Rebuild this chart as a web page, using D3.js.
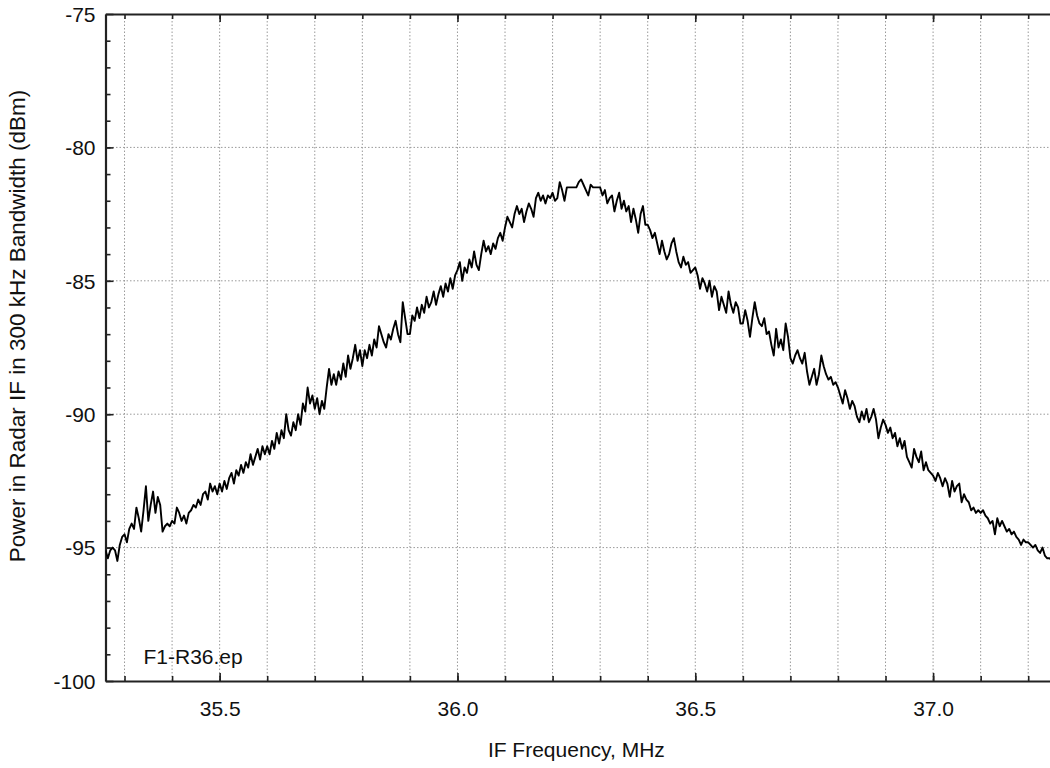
<!DOCTYPE html>
<html>
<head>
<meta charset="utf-8">
<script src="https://cdn.jsdelivr.net/npm/d3@7"></script>
<style>
  body { margin: 0; background: #fff; }
  svg { display: block; font-family: "Liberation Sans", Arial, sans-serif; }
  .grid line { stroke: #9a9a9a; stroke-width: 1; stroke-dasharray: 1.5,2; }
  .axis path, .axis line { stroke: #222; }
  .axis path { stroke-width: 2.2; }
  .axis line { stroke-width: 1.6; }
  .axis text { font-size: 21px; fill: #111; }
  .title { font-size: 21px; fill: #111; }
</style>
</head>
<body>
<div id="chart"></div>
<script>
// Sweep: start frequency and step (MHz), one reading per step
const freqStart = 35.26
const freqStep = 0.005

// Power readings (dBm), one row per 0.1 MHz
const powerDbm = [
  -95.1, -95.4, -95.1, -95.0, -95.1, -95.5, -94.9, -94.6,
  // 35.3
  -94.5, -94.8, -94.3, -94.1, -94.3, -93.5, -93.9, -94.4, -93.6, -92.7, -94.0, -93.4, -92.9, -93.7, -93.1, -93.4, -94.4, -94.2, -94.1, -94.2,
  // 35.4
  -94.0, -94.1, -93.5, -93.7, -94.0, -93.8, -94.1, -93.7, -93.6, -93.4, -93.5, -93.2, -93.4, -93.0, -92.9, -93.2, -92.6, -92.9, -92.7, -93.0,
  // 35.5
  -92.6, -92.9, -92.5, -92.8, -92.4, -92.2, -92.6, -92.1, -92.3, -91.9, -92.2, -91.8, -92.0, -91.5, -91.9, -91.6, -91.3, -91.7, -91.2, -91.5,
  // 35.6
  -91.2, -91.5, -91.0, -91.3, -90.7, -91.1, -90.6, -90.9, -90.0, -90.6, -90.8, -90.3, -90.6, -90.0, -90.4, -89.6, -89.9, -89.0, -89.6, -89.3,
  // 35.7
  -89.8, -89.4, -90.0, -89.5, -89.8, -89.0, -88.3, -88.9, -88.5, -88.9, -88.4, -88.7, -88.1, -88.6, -87.8, -88.3, -87.9, -87.4, -88.0, -87.6,
  // 35.8
  -88.2, -87.6, -87.9, -87.4, -87.8, -87.2, -87.5, -86.7, -87.0, -87.3, -87.5, -87.0, -87.2, -86.8, -86.5, -87.0, -87.3, -85.8, -86.4, -87.0,
  // 35.9
  -87.0, -86.3, -86.5, -86.0, -86.4, -85.9, -86.2, -85.6, -86.0, -85.8, -85.4, -85.9, -85.5, -85.2, -85.6, -85.1, -85.4, -84.9, -85.3, -84.8,
  // 36.0
  -84.6, -84.3, -85.0, -84.5, -84.7, -84.2, -84.5, -83.9, -84.4, -84.6, -84.0, -83.5, -83.9, -83.7, -84.0, -83.6, -83.8, -83.4, -83.2, -83.5,
  // 36.1
  -83.0, -82.6, -82.8, -83.0, -82.5, -82.2, -82.5, -82.3, -82.8, -82.4, -82.1, -82.3, -82.6, -81.9, -81.7, -82.0, -81.8, -82.1, -81.8, -81.9,
  // 36.2
  -81.7, -82.0, -81.9, -81.3, -81.6, -82.0, -81.5, -81.5, -81.5, -81.5, -81.5, -81.3, -81.2, -81.4, -81.6, -81.8, -81.4, -81.5, -81.5, -81.5,
  // 36.3
  -81.5, -81.8, -81.6, -82.1, -81.9, -81.8, -82.4, -82.0, -81.7, -82.3, -82.0, -82.4, -82.2, -82.8, -82.3, -82.7, -83.2, -82.5, -82.2, -82.9,
  // 36.4
  -82.9, -83.1, -83.4, -83.2, -83.6, -84.0, -83.5, -83.9, -84.2, -84.0, -83.6, -83.4, -83.9, -84.3, -84.5, -84.1, -84.4, -84.3, -84.7, -84.6,
  // 36.5
  -84.5, -84.8, -85.3, -84.9, -85.1, -85.4, -85.0, -85.6, -85.2, -85.4, -86.1, -85.6, -85.9, -86.2, -85.4, -85.9, -86.2, -85.8, -86.0, -86.6,
  // 36.6
  -86.6, -86.1, -86.5, -87.1, -86.4, -85.8, -86.3, -86.6, -86.7, -86.4, -87.0, -86.9, -87.4, -87.8, -86.8, -87.5, -87.2, -87.6, -86.6, -87.1,
  // 36.7
  -87.9, -88.1, -87.8, -87.6, -87.9, -88.1, -87.7, -88.4, -88.9, -88.6, -88.3, -88.9, -88.5, -87.8, -88.2, -88.5, -88.7, -88.6, -88.9, -88.8,
  // 36.8
  -89.0, -89.3, -89.6, -89.1, -89.4, -89.8, -89.5, -89.7, -90.1, -90.3, -89.9, -90.2, -89.8, -90.3, -90.1, -89.8, -90.2, -90.9, -90.5, -90.2,
  // 36.9
  -90.4, -90.7, -90.5, -90.9, -90.7, -91.2, -90.9, -91.3, -91.0, -91.6, -91.8, -92.0, -91.3, -91.6, -91.8, -91.4, -92.1, -91.8, -92.1, -92.2,
  // 37.0
  -92.3, -92.5, -92.2, -92.4, -92.7, -92.4, -92.6, -93.1, -92.5, -92.9, -92.7, -92.6, -93.3, -93.0, -93.2, -93.3, -93.6, -93.5, -93.7, -93.6,
  // 37.1
  -93.7, -93.6, -93.8, -93.9, -94.1, -94.0, -94.5, -93.9, -94.2, -94.0, -94.2, -94.4, -94.3, -94.5, -94.4, -94.6, -94.7, -94.9, -94.7, -94.8,
  // 37.2
  -94.8, -94.9, -95.0, -94.9, -95.1, -95.2, -95.0, -95.3, -95.4, -95.4, -95.5
]

const xTickValues = [35.5, 36.0, 36.5, 37.0]
const yTickValues = [-75, -80, -85, -90, -95, -100]
const xDomain = [35.26, 37.25]
const yDomain = [-100, -75]

const xTitle = "IF Frequency, MHz"
const yTitle = "Power in Radar IF in 300 kHz Bandwidth (dBm)"
const fileLabel = "F1-R36.ep"

// Chart dimensions
const W = 1050, H = 768
const margin = { top: 14, right: -2, bottom: 87, left: 105.5 }
const width = W - margin.left - margin.right
const height = H - margin.top - margin.bottom

const data = powerDbm.map((v, i) => ({ f: freqStart + i * freqStep, p: v }))

// Scales
const x = d3.scaleLinear().domain(xDomain).range([0, width])
const y = d3.scaleLinear().domain(yDomain).range([height, 0])

const svg = d3.select("#chart")
  .append("svg")
  .attr("width", W)
  .attr("height", H)

const g = svg.append("g")
  .attr("transform", `translate(${margin.left},${margin.top})`)

g.append("clipPath")
  .attr("id", "plot-clip")
  .append("rect")
  .attr("width", width)
  .attr("height", height)

// Grid
const xGrid = d3.range(35.3, 37.25, 0.1)
const yGrid = yTickValues.filter(d => d > yDomain[0] && d < yDomain[1])

g.append("g").attr("class", "grid")
  .selectAll("line.v")
  .data(xGrid)
  .join("line")
  .attr("x1", d => x(d)).attr("x2", d => x(d))
  .attr("y1", 0).attr("y2", height)

g.append("g").attr("class", "grid")
  .selectAll("line.h")
  .data(yGrid)
  .join("line")
  .attr("x1", 0).attr("x2", width)
  .attr("y1", d => y(d)).attr("y2", d => y(d))

// Minor ticks
g.append("g").attr("class", "axis")
  .call(d3.axisLeft(y).tickValues(d3.range(-99, -75, 1)).tickSize(-5).tickSizeOuter(0).tickFormat(""))
  .call(a => a.select(".domain").remove())

g.append("g").attr("class", "axis")
  .attr("transform", `translate(0,${height})`)
  .call(d3.axisBottom(x).tickValues(xGrid).tickSize(-5).tickSizeOuter(0).tickFormat(""))
  .call(a => a.select(".domain").remove())

g.append("g").attr("class", "axis")
  .call(d3.axisTop(x).tickValues(xGrid).tickSize(-5).tickSizeOuter(0).tickFormat(""))
  .call(a => a.select(".domain").remove())

// Major axes (plain hyphen for negatives, as in the original)
g.append("g").attr("class", "axis")
  .call(d3.axisLeft(y).tickValues(yTickValues).tickSize(-8).tickSizeOuter(0).tickPadding(10)
    .tickFormat(d => String(d)))
  .call(a => a.selectAll("text").attr("dy", "0.35em"))

g.append("g").attr("class", "axis")
  .attr("transform", `translate(0,${height})`)
  .call(d3.axisBottom(x).tickValues(xTickValues).tickSize(-8).tickSizeOuter(0).tickPadding(20)
    .tickFormat(d3.format(".1f")))

g.append("g").attr("class", "axis")
  .call(d3.axisTop(x).tickValues(xTickValues).tickSize(-8).tickSizeOuter(0).tickFormat(""))

// Trace
const line = d3.line()
  .x(d => x(d.f))
  .y(d => y(d.p))

g.append("path")
  .datum(data)
  .attr("clip-path", "url(#plot-clip)")
  .attr("fill", "none")
  .attr("stroke", "#000")
  .attr("stroke-width", 1.9)
  .attr("stroke-linejoin", "round")
  .attr("d", line)

// Labels
g.append("text")
  .attr("class", "title")
  .attr("x", 38)
  .attr("y", height - 17)
  .text(fileLabel)

svg.append("text")
  .attr("class", "title")
  .attr("x", margin.left + x(36.25))
  .attr("y", 757)
  .attr("text-anchor", "middle")
  .text(xTitle)

svg.append("text")
  .attr("class", "title")
  .attr("transform", `translate(25,${326}) rotate(-90)`)
  .attr("text-anchor", "middle")
  .style("font-size", "22.5px")
  .text(yTitle)
</script>
</body>
</html>
